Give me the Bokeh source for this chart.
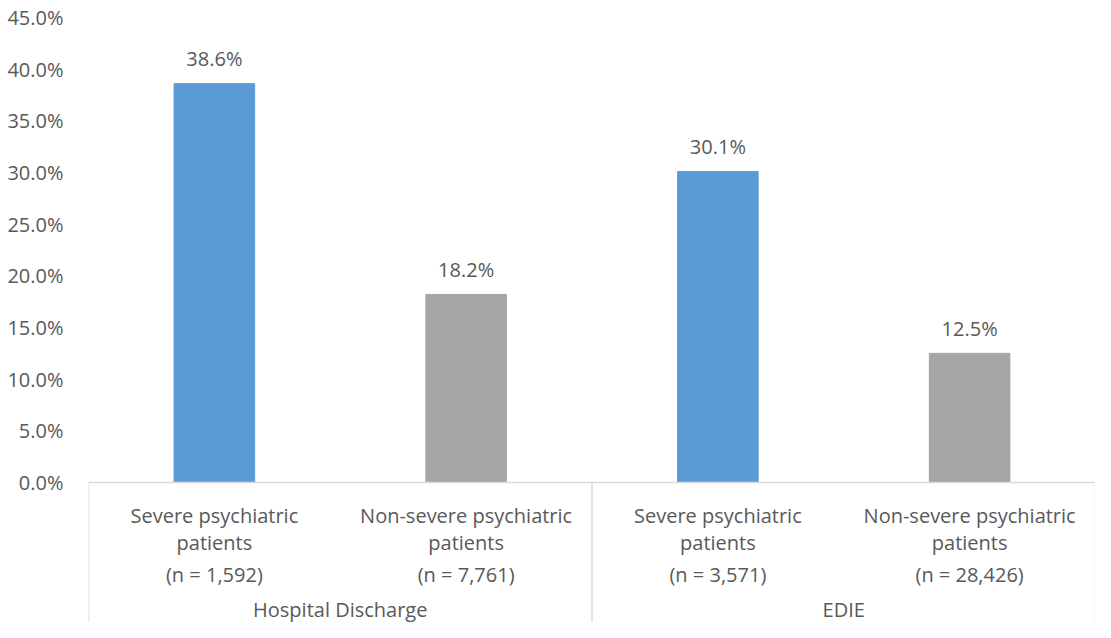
from bokeh.plotting import figure
from bokeh.models import Range1d, FixedTicker, PrintfTickFormatter, ColumnDataSource
from bokeh.core.properties import value
from bokeh.embed import file_html
from bokeh.resources import INLINE

# ---- data ----
groups = ["Hospital Discharge", "EDIE"]
group_sizes = [2, 2]
cat_line1 = ["Severe psychiatric", "Non-severe psychiatric", "Severe psychiatric", "Non-severe psychiatric"]
cat_line2 = ["patients", "patients", "patients", "patients"]
n_labels = ["(n = 1,592)", "(n = 7,761)", "(n = 3,571)", "(n = 28,426)"]
values = [38.6, 18.2, 30.1, 12.5]
colors = ["#5B9BD5", "#A5A5A5", "#5B9BD5", "#A5A5A5"]
y_ticks = [0, 5, 10, 15, 20, 25, 30, 35, 40, 45]

FONT = "Open Sans"
FS = "20px"
TXT = "#595959"
AXIS = "#D9D9D9"

n_cat = len(values)
xs = [i + 0.5 for i in range(n_cat)]

W, H = 1095, 622
top = 17
px_per_unit = 465 / 45.0
frame_h = H - top
y_min = 45 - frame_h / px_per_unit

p = figure(width=W, height=H, output_backend="svg", toolbar_location=None,
           x_range=Range1d(0, n_cat), y_range=Range1d(y_min, 45),
           x_axis_location=None, min_border_left=88, min_border_right=0,
           min_border_top=top, min_border_bottom=0, outline_line_color=None)
p.xgrid.visible = False
p.ygrid.visible = False

yax = p.yaxis[0]
yax.ticker = FixedTicker(ticks=y_ticks)
yax.formatter = PrintfTickFormatter(format="%.1f%%")
yax.axis_line_color = None
yax.major_tick_line_color = None
yax.minor_tick_line_color = None
yax.major_tick_out = 0
yax.major_tick_in = 0
yax.major_label_standoff = 25
yax.major_label_text_font = FONT
yax.major_label_text_font_size = FS
yax.major_label_text_color = TXT

src = ColumnDataSource(dict(x=xs, top=values, color=colors,
                            lab=[f"{v:.1f}%" for v in values],
                            l1=cat_line1, l2=cat_line2, l3=n_labels,
                            zero=[0] * n_cat))

p.vbar(x="x", top="top", width=0.32, bottom=0, color="color", source=src)

# value labels
p.text(x="x", y="top", text="lab", source=src, text_align="center",
       text_baseline="middle", y_offset=-25, text_font=value(FONT),
       text_font_size=FS, text_color=TXT)

# x axis line
p.segment(x0=[0], y0=[0], x1=[n_cat], y1=[0], line_color=AXIS, line_width=1.5)

# category labels
for col, off in (("l1", 33), ("l2", 60), ("l3", 92)):
    p.text(x="x", y="zero", text=col, source=src, text_align="center",
           text_baseline="middle", y_offset=off, text_font=value(FONT),
           text_font_size=FS, text_color=TXT)

# group separators and labels
bounds = [0]
for s in group_sizes:
    bounds.append(bounds[-1] + s)
p.segment(x0=bounds, y0=[0] * len(bounds), x1=bounds, y1=[y_min - 1] * len(bounds),
          line_color=AXIS, line_width=1.5)
g_x = [(bounds[i] + bounds[i + 1]) / 2 for i in range(len(groups))]
p.text(x=g_x, y=[0] * len(groups), text=groups, text_align="center",
       text_baseline="middle", y_offset=127, text_font=value(FONT),
       text_font_size=FS, text_color=TXT)

open("out.html", "w").write(file_html(p, INLINE))
